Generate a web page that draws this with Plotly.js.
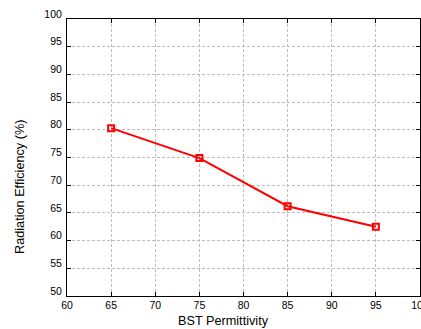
<!DOCTYPE html>
<html>
<head>
<meta charset="utf-8">
<script src="https://cdn.plot.ly/plotly-3.0.1.min.js"></script>
<style>html,body{margin:0;padding:0;background:#fff;overflow:hidden}</style>
</head>
<body>
<div id="chart" style="width:421px;height:329px"></div>
<script>
const permittivity = [65, 75, 85, 95];
const efficiency = [80.3, 74.9, 66.2, 62.5];
const xTicks = [60, 65, 70, 75, 80, 85, 90, 95, 100];
const yTicks = [50, 55, 60, 65, 70, 75, 80, 85, 90, 95, 100];
const xTitle = 'BST Permittivity';
const yTitle = 'Radiation Efficiency (%)';

const FONT = 'Liberation Sans, Arial, Helvetica, sans-serif';

const trace = {
  x: permittivity,
  y: efficiency,
  mode: 'lines+markers',
  type: 'scatter',
  line: {color: '#ff0000', width: 2},
  marker: {symbol: 'square-open', size: 6, color: '#ff0000', line: {color: '#ff0000', width: 2}},
  cliponaxis: false
};

const axisCommon = {
  showline: true, linecolor: '#000', linewidth: 1, mirror: 'ticks',
  ticks: 'inside', ticklen: 4, tickcolor: '#000',
  showgrid: true, gridcolor: '#bdbdbd', griddash: '3px,2px', gridwidth: 1,
  zeroline: false,
  ticklabeloverflow: 'allow',
  tickfont: {family: FONT, size: 10.5, color: '#000'}
};

const layout = {
  width: 421, height: 329,
  margin: {l: 67, r: 1, t: 19, b: 33},
  paper_bgcolor: '#fff', plot_bgcolor: '#fff',
  showlegend: false,
  xaxis: Object.assign({}, axisCommon, {
    range: [60, 100], tickvals: xTicks, ticktext: xTicks.map(String),
    ticklabelstandoff: -1
  }),
  yaxis: Object.assign({}, axisCommon, {
    range: [50, 100], tickvals: yTicks, ticktext: yTicks.map(String),
    ticklabelshift: -5, ticklabelstandoff: 2
  }),
  annotations: [
    {text: xTitle, xref: 'paper', yref: 'paper', x: (223 - 67) / 353, y: 0,
     xanchor: 'center', yanchor: 'middle', yshift: -25, showarrow: false,
     font: {family: FONT, size: 12.7, color: '#000'}},
    {text: yTitle, xref: 'paper', yref: 'paper', x: 0, y: (296 - 187) / 277,
     xanchor: 'center', yanchor: 'middle', xshift: -47, textangle: -90, showarrow: false,
     font: {family: FONT, size: 12.7, color: '#000'}}
  ]
};

Plotly.newPlot('chart', [trace], layout, {staticPlot: true, displayModeBar: false});
</script>
</body>
</html>
